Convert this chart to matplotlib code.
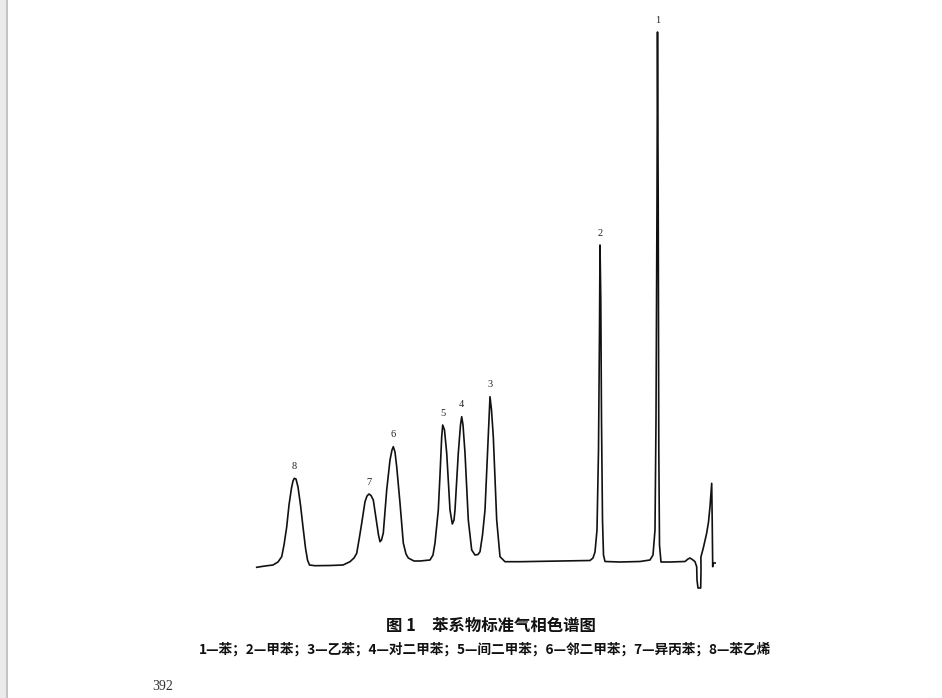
import matplotlib
matplotlib.use('Agg')
import numpy as np
import matplotlib.pyplot as plt
from matplotlib.patches import Rectangle

t = [1.7, 10, 18, 23, 26.7, 29, 31.7, 34, 36.5, 38, 39.3, 41, 43, 45.5, 48, 50.5, 52.5, 54.5,
     60, 75, 88, 95, 99, 101.7, 104, 106.7, 110, 112, 114, 116, 118.3, 121.7, 123.5, 125,
     126.5, 128.3, 130, 131.7, 135, 137, 138.3, 140, 141.7, 145, 148.3, 151, 153.3, 159, 165,
     175, 178, 180, 183.3, 185, 186.7, 187.7, 189.5, 191.7, 195, 197.3, 199, 200, 203.3,
     205.5, 206.7, 208, 210, 213.3, 216.7, 220, 223, 225, 227.5, 230, 233.3, 235, 236.5,
     238.3, 241.7, 245, 250, 265, 305, 335, 338, 340, 342, 343.5, 344.5, 345, 345.8, 346.5,
     347.5, 348.5, 350, 365, 385, 395, 398, 400, 401, 402, 402.5, 403.2, 403.8, 404.5, 406,
     415, 430, 433, 435, 438, 440, 441.7, 442, 443, 445.7, 446, 445.9, 448.3, 451.7, 453.5,
     455, 456.7, 457.2, 457.7, 458, 461]
signal = [-2.3, -1, 0, 3, 8.3, 20, 38, 60, 77, 84, 86.7, 86, 78, 60, 38, 17, 5, 0,
          -0.7, -0.5, 0, 3.3, 7, 11.7, 25, 41.7, 63.3, 69, 71, 69.5, 65, 41.7, 30, 23.3,
          25, 32, 53, 75, 105, 115, 118.3, 113, 98.3, 62, 22, 11, 7, 4, 4,
          5, 10, 22, 55, 90, 128.3, 140, 135, 112, 55, 41, 45, 55, 112,
          140, 148.3, 140, 112, 45, 15, 10, 10.5, 13.3, 30, 55, 128.3, 168.3, 155,
          128.3, 45, 8.3, 3.3, 3.3, 4, 4.5, 7, 13, 35, 115, 235, 320, 265, 145,
          45, 10, 3.5, 3, 3.5, 5, 10, 35, 145, 365, 533, 365, 115, 20, 3,
          3, 3.5, 6, 7, 5, 3.3, -1.7, -15, -23, -23, -5, 8, 17, 32, 43,
          58.3, 81.7, 45, -1.7, 2, 2]

peak_ids = ['1', '2', '3', '4', '5', '6', '7', '8']
peak_t = [402.5, 345, 235, 206.7, 187.7, 138.3, 114, 39.3]
peak_h = [533, 320, 168.3, 148.3, 140, 118.3, 71, 86.7]

title = '图 1　苯系物标准气相色谱图'
legend_text = '1—苯；2—甲苯；3—乙苯；4—对二甲苯；5—间二甲苯；6—邻二甲苯；7—异丙苯；8—苯乙烯'
page_no = '392'

fig = plt.figure(figsize=(9.42, 6.98), dpi=100)
fig.patch.set_facecolor('white')

# grey scan margin on the left
fig.patches.append(Rectangle((0, 0), 6 / 942, 1, transform=fig.transFigure,
                             facecolor='#ebebeb', edgecolor='none'))
fig.patches.append(Rectangle((6 / 942, 0), 1.5 / 942, 1, transform=fig.transFigure,
                             facecolor='#c4c4c4', edgecolor='none'))

ax = fig.add_axes([255 / 942, 1 - 592 / 698, 461 / 942, 572 / 698])
ax.plot(t, signal, color='#111111', lw=1.2, solid_joinstyle='round')
ax.set_xlim(0, 461)
ax.set_ylim(-27, 545)
ax.axis('off')

for lab, x, h in zip(peak_ids, peak_t, peak_h):
    ax.annotate(lab, (x, h), xytext=(0, 8.5), textcoords='offset points',
                ha='center', va='center', fontsize=7.5, family='Liberation Serif',
                color='#222222')

cjk = ['Noto Sans CJK SC', 'DejaVu Sans']
fig.text(491 / 942, 1 - 626 / 698, title, ha='center', va='center', fontsize=11.8,
         family=cjk, fontweight='bold', color='#111111')
fig.text(485 / 942, 1 - 649 / 698, legend_text, ha='center', va='center', fontsize=9.85,
         family=cjk, fontweight='bold', color='#111111')
fig.text(163 / 942, 1 - 686 / 698, page_no, ha='center', va='center', fontsize=10,
         family='Liberation Serif', color='#333333')

plt.savefig('out.png', dpi=100)
